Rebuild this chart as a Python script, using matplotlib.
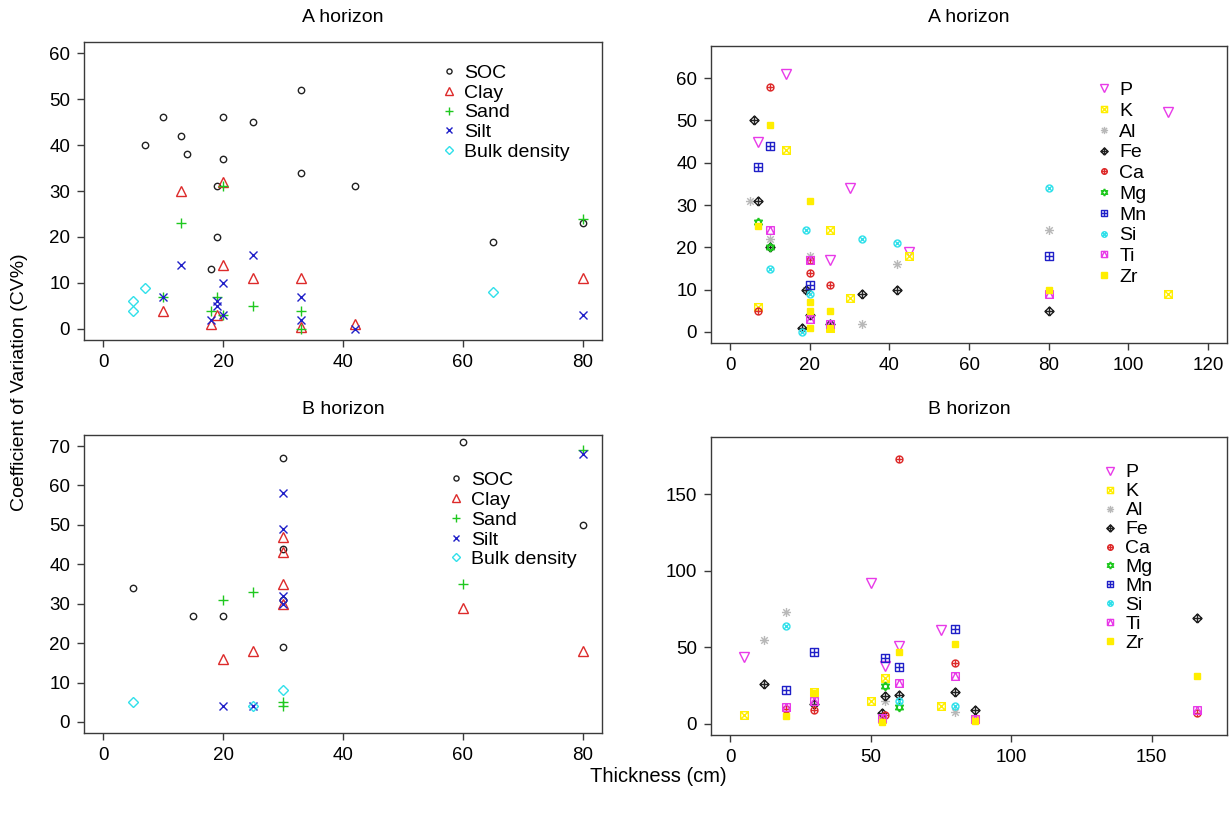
import numpy as np
import matplotlib
matplotlib.use('Agg')
import matplotlib.pyplot as plt
from matplotlib.path import Path

plt.rcParams['font.family'] = ['Liberation Sans', 'DejaVu Sans']

# ---- A horizon, soil properties ----
soc_a_x = [7, 10, 13, 14, 18, 19, 19, 20, 20, 25, 33, 33, 42, 65, 80]
soc_a_y = [40, 46, 42, 38, 13, 31, 20, 46, 37, 45, 52, 34, 31, 19, 23]
clay_a_x = [10, 13, 18, 19, 20, 20, 25, 33, 33, 42, 80]
clay_a_y = [4, 30, 1, 3, 32, 14, 11, 11, 0.5, 1, 11]
sand_a_x = [10, 13, 18, 19, 20, 20, 25, 33, 33, 80]
sand_a_y = [7, 23, 4, 7, 31, 3, 5, 4, 0, 24]
silt_a_x = [10, 13, 18, 19, 19, 20, 20, 25, 33, 33, 42, 80]
silt_a_y = [7, 14, 2, 6, 5, 10, 3, 16, 7, 2, 0, 3]
bulk_a_x = [5, 5, 7, 65]
bulk_a_y = [6, 4, 9, 8]

# ---- B horizon, soil properties ----
soc_b_x = [5, 15, 20, 30, 30, 30, 30, 60, 80]
soc_b_y = [34, 27, 27, 67, 44, 31, 19, 71, 50]
clay_b_x = [20, 25, 30, 30, 30, 30, 60, 80]
clay_b_y = [16, 18, 47, 43, 35, 30, 29, 18]
sand_b_x = [20, 25, 30, 30, 60, 80]
sand_b_y = [31, 33, 5, 4, 35, 69]
silt_b_x = [20, 25, 30, 30, 30, 30, 80]
silt_b_y = [4, 4, 58, 49, 32, 30, 68]
bulk_b_x = [5, 25, 30]
bulk_b_y = [5, 4, 8]

# ---- A horizon, elements ----
p_a_x = [7, 14, 25, 30, 45, 110]
p_a_y = [45, 61, 17, 34, 19, 52]
k_a_x = [7, 14, 25, 30, 45, 110, 25]
k_a_y = [6, 43, 24, 8, 18, 9, 1]
al_a_x = [5, 10, 20, 33, 42, 80, 19]
al_a_y = [31, 22, 18, 2, 16, 24, 10]
fe_a_x = [6, 7, 10, 19, 18, 20, 25, 33, 42, 80]
fe_a_y = [50, 31, 20, 10, 1, 4, 2, 9, 10, 5]
ca_a_x = [10, 7, 20, 25, 20]
ca_a_y = [58, 5, 14, 11, 17]
mg_a_x = [7, 10]
mg_a_y = [26, 20]
mn_a_x = [10, 7, 20, 80]
mn_a_y = [44, 39, 11, 18]
si_a_x = [19, 33, 10, 18, 20, 42, 80]
si_a_y = [24, 22, 15, 0, 9, 21, 34]
ti_a_x = [10, 20, 25, 20, 80]
ti_a_y = [24, 17, 2, 3, 9]
zr_a_x = [10, 20, 20, 20, 20, 25, 25, 80, 7]
zr_a_y = [49, 31, 7, 5, 1, 5, 1, 10, 25]

# ---- B horizon, elements ----
p_b_x = [5, 50, 55, 60, 75]
p_b_y = [44, 92, 38, 51, 61]
k_b_x = [5, 30, 50, 54, 55, 75, 87]
k_b_y = [6, 21, 15, 3, 30, 12, 3]
al_b_x = [12, 20, 55, 80]
al_b_y = [55, 73, 15, 8]
fe_b_x = [12, 30, 54, 55, 60, 80, 87, 166]
fe_b_y = [26, 13, 7, 18, 19, 21, 9, 69]
ca_b_x = [20, 30, 55, 60, 80, 166]
ca_b_y = [10, 9, 6, 173, 40, 7]
mg_b_x = [55, 60]
mg_b_y = [25, 11]
mn_b_x = [20, 30, 55, 60, 80]
mn_b_y = [22, 47, 43, 37, 62]
si_b_x = [20, 60, 80]
si_b_y = [64, 15, 12]
ti_b_x = [20, 30, 54, 60, 80, 87, 166]
ti_b_y = [11, 15, 4, 27, 31, 3, 9]
zr_b_x = [20, 30, 54, 60, 80, 87, 166]
zr_b_y = [5, 20, 1, 47, 52, 2, 31]


# R-like pch symbols as marker paths
def seg_path(lines):
    verts, codes = [], []
    for line in lines:
        verts += line
        codes += [Path.MOVETO] + [Path.LINETO] * (len(line) - 1)
    return Path(verts, codes)


t = np.linspace(0, 2 * np.pi, 41)
circ = [(np.cos(a), np.sin(a)) for a in t]
sq = [(-1, -1), (1, -1), (1, 1), (-1, 1), (-1, -1)]
dia = [(0, -1), (1, 0), (0, 1), (-1, 0), (0, -1)]
plus = [[(-1, 0), (1, 0)], [(0, -1), (0, 1)]]
r = 0.72
cross_in = [[(-r, -r), (r, r)], [(-r, r), (r, -r)]]
tri_up = [(np.cos(a), np.sin(a)) for a in np.radians([90, 210, 330, 90])]
tri_dn = [(np.cos(a), np.sin(a)) for a in np.radians([270, 30, 150, 270])]

pch7 = seg_path([sq, [(-1, -1), (1, 1)], [(-1, 1), (1, -1)]])
pch8 = seg_path(plus + cross_in)
pch9 = seg_path([dia] + plus)
pch10 = seg_path([circ] + plus)
pch11 = seg_path([tri_up, tri_dn])
pch12 = seg_path([sq] + plus)
pch13 = seg_path([circ] + cross_in)
pch14 = seg_path([sq, [(-1, -1), (0, 1), (1, -1)]])

RED = '#dd2a2a'
GREEN = '#1fc81f'
BLUE = '#2020c8'
CYAN = '#30e0ea'
MAGENTA = '#e83ae8'
YELLOW = '#ffee00'
GRAY = '#b8b8b8'
BLACK = '#222222'


def pts(ax, x, y, marker, color, ms, label, filled=False):
    ax.plot(x, y, ls='none', marker=marker, ms=ms, mew=1.0,
            mec=color, mfc=color if filled else 'none', label=label)


fig = plt.figure(figsize=(12.3, 8.15), dpi=100)
W, H = 1230, 815


def panel(l, t_, r_, b):
    ax = fig.add_axes([l / W, 1 - b / H, (r_ - l) / W, (b - t_) / H])
    for s in ax.spines.values():
        s.set_color('#3a3a3a')
        s.set_linewidth(1.0)
    ax.tick_params(direction='out', length=5, width=1, color='#3a3a3a',
                   labelsize=13.5, pad=5)
    return ax


ax1 = panel(84, 42, 602, 340)
ax2 = panel(711, 46, 1227, 343)
ax3 = panel(84, 435, 602, 733)
ax4 = panel(711, 437, 1227, 735)

soil_a = [(soc_a_x, soc_a_y), (clay_a_x, clay_a_y), (sand_a_x, sand_a_y),
          (silt_a_x, silt_a_y), (bulk_a_x, bulk_a_y)]
soil_b = [(soc_b_x, soc_b_y), (clay_b_x, clay_b_y), (sand_b_x, sand_b_y),
          (silt_b_x, silt_b_y), (bulk_b_x, bulk_b_y)]
soil_style = [('o', BLACK, 4.6, 'SOC'), ('^', RED, 6.5, 'Clay'),
              ('+', GREEN, 7, 'Sand'), ('x', BLUE, 5.5, 'Silt'),
              ('D', CYAN, 5.5, 'Bulk density')]

elem_a = [(p_a_x, p_a_y), (k_a_x, k_a_y), (al_a_x, al_a_y), (fe_a_x, fe_a_y),
          (ca_a_x, ca_a_y), (mg_a_x, mg_a_y), (mn_a_x, mn_a_y),
          (si_a_x, si_a_y), (ti_a_x, ti_a_y), (zr_a_x, zr_a_y)]
elem_b = [(p_b_x, p_b_y), (k_b_x, k_b_y), (al_b_x, al_b_y), (fe_b_x, fe_b_y),
          (ca_b_x, ca_b_y), (mg_b_x, mg_b_y), (mn_b_x, mn_b_y),
          (si_b_x, si_b_y), (ti_b_x, ti_b_y), (zr_b_x, zr_b_y)]
elem_style = [('v', MAGENTA, 6.5, 'P'), (pch7, YELLOW, 5.5, 'K'),
              (pch8, GRAY, 6.5, 'Al'), (pch9, BLACK, 6.5, 'Fe'),
              (pch10, RED, 5, 'Ca'), (pch11, GREEN, 6.5, 'Mg'),
              (pch12, BLUE, 5.5, 'Mn'), (pch13, CYAN, 5, 'Si'),
              (pch14, MAGENTA, 5.5, 'Ti'), ('s', YELLOW, 4.6, 'Zr')]

for ax, data in [(ax1, soil_a), (ax3, soil_b)]:
    for (x, y), (m, c, ms, lab) in zip(data, soil_style):
        pts(ax, x, y, m, c, ms, lab)
for ax, data in [(ax2, elem_a), (ax4, elem_b)]:
    for (x, y), (m, c, ms, lab) in zip(data, elem_style):
        pts(ax, x, y, m, c, ms, lab, filled=(lab == 'Zr'))

ax1.set_xlim(-3.2, 83.2)
ax1.set_ylim(-2.4, 62.4)
ax1.set_xticks([0, 20, 40, 60, 80])
ax1.set_yticks(range(0, 61, 10))

ax2.set_xlim(-4.8, 124.8)
ax2.set_ylim(-2.6, 67.6)
ax2.set_xticks(range(0, 121, 20))
ax2.set_yticks(range(0, 61, 10))

ax3.set_xlim(-3.2, 83.2)
ax3.set_ylim(-2.8, 72.8)
ax3.set_xticks([0, 20, 40, 60, 80])
ax3.set_yticks(range(0, 71, 10))

ax4.set_xlim(-6.8, 176.8)
ax4.set_ylim(-7.2, 187.2)
ax4.set_xticks([0, 50, 100, 150])
ax4.set_yticks([0, 50, 100, 150])

leg_kw = dict(loc='upper left', frameon=False, fontsize=14, handlelength=0.8,
              handletextpad=0.4, borderpad=0, borderaxespad=0, markerscale=0.8)
ax1.legend(bbox_to_anchor=(0.689, 0.925), labelspacing=0.11, **leg_kw)
ax3.legend(bbox_to_anchor=(0.703, 0.877), labelspacing=0.11, **leg_kw)
ax2.legend(bbox_to_anchor=(0.746, 0.88), labelspacing=0.16, **leg_kw)
ax4.legend(bbox_to_anchor=(0.758, 0.91), labelspacing=0.07, **leg_kw)

fig.text(343 / W, 1 - 18 / H, 'A horizon', ha='center', va='center', fontsize=14)
fig.text(969 / W, 1 - 18 / H, 'A horizon', ha='center', va='center', fontsize=14)
fig.text(343 / W, 1 - 410 / H, 'B horizon', ha='center', va='center', fontsize=14)
fig.text(969 / W, 1 - 410 / H, 'B horizon', ha='center', va='center', fontsize=14)

fig.text(20 / W, 1 - 382 / H, 'Coefficient of Variation (CV%)', rotation=90,
         ha='center', va='center', fontsize=14)
fig.text(658 / W, 1 - 776 / H, 'Thickness (cm)', ha='center', va='center',
         fontsize=14.5)

fig.savefig('out.png', dpi=100)
